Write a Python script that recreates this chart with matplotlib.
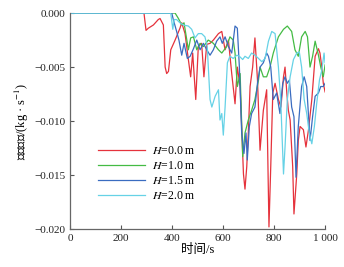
# -*- coding: utf-8 -*-
"""
mass flow rate vs time for several heights H
"""
import matplotlib
matplotlib.use('Agg')
import matplotlib.pyplot as plt

plt.rcParams['font.family'] = ['Liberation Serif', 'Noto Sans CJK SC']
plt.rcParams['mathtext.fontset'] = 'stix'

# H = 0.0 m
t_h00 = [0, 290, 298, 307, 327, 346, 353, 366, 373, 379, 386, 395, 412, 431, 438,
         451, 464, 473, 481, 493, 503, 516, 525, 536, 549, 562, 582, 595, 608,
         621, 634, 647, 656, 667, 680, 686, 693, 699, 706, 716, 725, 735, 745,
         758, 771, 780, 787, 795, 804, 817, 827, 837, 843, 850, 856, 863, 873,
         878, 889, 895, 902, 915, 925, 935, 948, 961, 974, 980, 987, 993, 1000]
q_h00 = [0, 0, -0.0016, -0.0014, -0.0011, -0.0006, -0.0005, -0.0011, -0.0050,
         -0.0056, -0.0054, -0.0034, -0.0025, -0.0014, -0.0009, -0.0019, -0.0043,
         -0.0059, -0.0037, -0.0080, -0.0031, -0.0028, -0.0059, -0.0029, -0.0028,
         -0.0025, -0.0019, -0.0017, -0.0034, -0.0025, -0.0056, -0.0084, -0.0050,
         -0.0068, -0.0149, -0.0163, -0.0142, -0.0111, -0.0068, -0.0050, -0.0023,
         -0.0062, -0.0127, -0.0090, -0.0071, -0.0198, -0.0142, -0.0074, -0.0065,
         -0.0080, -0.0087, -0.0059, -0.0050, -0.0074, -0.0090, -0.0099, -0.0142,
         -0.0186, -0.0149, -0.0118, -0.0105, -0.0108, -0.0124, -0.0108, -0.0080,
         -0.0040, -0.0033, -0.0037, -0.0050, -0.0065, -0.0073]

# H = 1.0 m
t_h10 = [0, 412, 425, 438, 447, 458, 464, 473, 484, 497, 510, 523, 542, 562, 582,
         595, 614, 627, 640, 647, 656, 667, 677, 686, 699, 712, 725, 739, 745,
         758, 771, 784, 797, 817, 837, 852, 869, 882, 895, 908, 922, 931, 941,
         951, 961, 974, 983, 993, 1000]
q_h10 = [0, 0, -0.0005, -0.0011, -0.0009, -0.0025, -0.0034, -0.0023, -0.0022,
         -0.0034, -0.0028, -0.0031, -0.0025, -0.0028, -0.0034, -0.0037, -0.0031,
         -0.0022, -0.0025, -0.0037, -0.0068, -0.0056, -0.0133, -0.0111, -0.0099,
         -0.0090, -0.0080, -0.0062, -0.0050, -0.0059, -0.0059, -0.0050, -0.0037,
         -0.0022, -0.0015, -0.0012, -0.0017, -0.0034, -0.0040, -0.0022, -0.0017,
         -0.0022, -0.0050, -0.0040, -0.0026, -0.0039, -0.0050, -0.0059, -0.0048]

# H = 1.5 m
t_h15 = [0, 399, 405, 418, 427, 438, 447, 460, 471, 484, 497, 510, 523, 536, 549,
         562, 575, 588, 597, 608, 621, 634, 647, 656, 664, 673, 682, 690, 695,
         703, 712, 725, 735, 745, 758, 771, 778, 787, 797, 810, 823, 834, 843,
         852, 860, 869, 878, 886, 895, 908, 918, 928, 941, 951, 961, 974, 983,
         993, 1000]
q_h15 = [0, 0, -0.0006, -0.0017, -0.0025, -0.0039, -0.0028, -0.0042, -0.0040,
         -0.0033, -0.0025, -0.0034, -0.0028, -0.0034, -0.0039, -0.0034, -0.0026,
         -0.0022, -0.0028, -0.0022, -0.0031, -0.0037, -0.0012, -0.0014, -0.0050,
         -0.0111, -0.0130, -0.0111, -0.0136, -0.0105, -0.0093, -0.0087, -0.0065,
         -0.0050, -0.0046, -0.0037, -0.0040, -0.0050, -0.0080, -0.0074, -0.0093,
         -0.0065, -0.0059, -0.0065, -0.0062, -0.0087, -0.0096, -0.0152, -0.0105,
         -0.0068, -0.0059, -0.0068, -0.0118, -0.0096, -0.0077, -0.0074, -0.0068,
         -0.0068, -0.0065]

# H = 2.0 m
t_h20 = [0, 395, 403, 408, 418, 431, 444, 464, 477, 490, 503, 516, 529, 538, 549,
         556, 569, 582, 588, 595, 601, 608, 617, 627, 640, 654, 664, 677, 686,
         699, 712, 725, 739, 752, 765, 778, 791, 804, 817, 826, 837, 843, 852,
         863, 876, 889, 899, 908, 918, 928, 938, 948, 958, 967, 978, 987, 996,
         1000]
q_h20 = [0, 0, -0.0015, -0.0006, -0.0006, -0.0009, -0.0011, -0.0012, -0.0015,
         -0.0023, -0.0019, -0.0019, -0.0022, -0.0031, -0.0080, -0.0087, -0.0077,
         -0.0071, -0.0099, -0.0093, -0.0113, -0.0087, -0.0046, -0.0040, -0.0042,
         -0.0039, -0.0040, -0.0043, -0.0040, -0.0042, -0.0037, -0.0039, -0.0042,
         -0.0045, -0.0042, -0.0026, -0.0017, -0.0019, -0.0050, -0.0080, -0.0149,
         -0.0124, -0.0080, -0.0059, -0.0043, -0.0037, -0.0036, -0.0050, -0.0080,
         -0.0093, -0.0111, -0.0121, -0.0105, -0.0084, -0.0062, -0.0053, -0.0037,
         -0.0046]

labels = [r'$H$=0.0 m', r'$H$=1.0 m', r'$H$=1.5 m', r'$H$=2.0 m']
x_ticks = [0, 200, 400, 600, 800, 1000]
x_ticklabels = ['0', '200', '400', '600', '800', '1 000']
y_ticks = [0.0, -0.005, -0.010, -0.015, -0.020]
y_ticklabels = ['0.000', '\u22120.005', '\u22120.010', '\u22120.015', '\u22120.020']

colors = ['#e5323c', '#44bb44', '#3a6cc0', '#66d2e6']

fig = plt.figure(figsize=(3.44, 2.67), dpi=100)
ax = fig.add_axes([0.2035, 0.142, 0.7415, 0.809])

series = [(t_h00, q_h00), (t_h10, q_h10), (t_h15, q_h15), (t_h20, q_h20)]
for (t, q), c, lab in zip(series, colors, labels):
    ax.plot(t, q, color=c, lw=0.9, label=lab)

ax.set_xlim(0, 1000)
ax.set_ylim(-0.020, 0.0)
ax.set_xticks(x_ticks)
ax.set_xticklabels(x_ticklabels)
ax.set_yticks(y_ticks)
ax.set_yticklabels(y_ticklabels)
ax.tick_params(direction='in', length=3, width=0.8, colors='#555555',
               labelcolor='#222222', labelsize=8)

for side in ['top', 'right']:
    ax.spines[side].set_visible(False)
for side in ['left', 'bottom']:
    ax.spines[side].set_color('#666666')
    ax.spines[side].set_linewidth(0.9)

ax.set_xlabel('时间/s', fontsize=9, labelpad=1)
ax.set_ylabel('质量流量/(kg · s$^{-1}$)', fontsize=9, labelpad=2)

ax.legend(loc='upper left', bbox_to_anchor=(0.09, 0.41), frameon=False,
          fontsize=8.5, handlelength=4.0, handletextpad=0.6, labelspacing=0.25,
          borderaxespad=0)

fig.savefig('out.png', dpi=100)
